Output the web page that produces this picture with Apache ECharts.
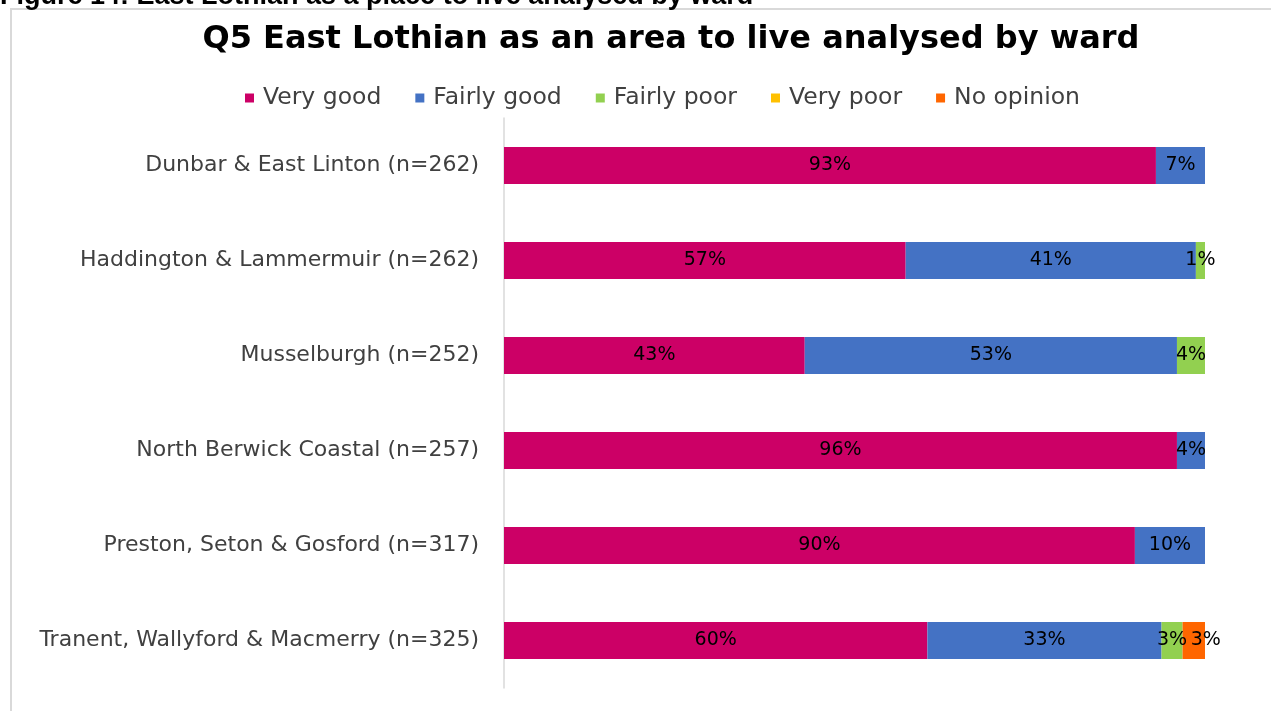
<!DOCTYPE html>
<html>
<head>
<meta charset="utf-8">
<script src="https://cdn.jsdelivr.net/npm/echarts@6/dist/echarts.min.js"></script>
<style>
html,body{margin:0;padding:0;background:#fff;}
#chart{width:1271px;height:711px;}
</style>
</head>
<body>
<div id="chart"></div>
<script>
const categories = [
  'Dunbar & East Linton (n=262)',
  'Haddington & Lammermuir (n=262)',
  'Musselburgh (n=252)',
  'North Berwick Coastal (n=257)',
  'Preston, Seton & Gosford (n=317)',
  'Tranent, Wallyford & Macmerry (n=325)'
];
const seriesNames = ['Very good', 'Fairly good', 'Fairly poor', 'Very poor', 'No opinion'];
const veryGood   = [93, 57.3, 42.9, 96, 90, 60.4];
const fairlyGood = [7, 41.4, 53.1, 4, 10, 33.4];
const fairlyPoor = [0, 1.3, 4.0, 0, 0, 3.0];
const veryPoor   = [0, 0, 0, 0, 0, 0];
const noOpinion  = [0, 0, 0, 0, 0, 3.2];
const colors = ['#CC0066', '#4472C4', '#92D050', '#FFC000', '#FF6600'];
const allData = [veryGood, fairlyGood, fairlyPoor, veryPoor, noOpinion];

const FONT = '"DejaVu Sans", Verdana, sans-serif';

const chart = echarts.init(document.getElementById('chart'));
chart.setOption({
  animation: false,
  backgroundColor: '#fff',
  graphic: [
    {type: 'rect', shape: {x: 11, y: 9, width: 1400, height: 900},
     style: {fill: 'none', stroke: '#d9d9d9', lineWidth: 2}, silent: true},
    {type: 'text', left: 0, top: -17,
     style: {text: 'Figure 14: East Lothian as a place to live analysed by ward',
             font: 'bold 27px "Liberation Sans", Arial, sans-serif', fill: '#000'}},
    {type: 'text', x: 671, y: 40,
     style: {text: 'Q5 East Lothian as an area to live analysed by ward',
             font: 'bold 32px "DejaVu Sans", Verdana, sans-serif', fill: '#000',
             textAlign: 'center', textVerticalAlign: 'middle'}}
  ],
  legend: {
    top: 81, left: 240,
    icon: 'rect', itemWidth: 9, itemHeight: 9, itemGap: 34,
    textStyle: {fontFamily: FONT, fontSize: 23.5, color: '#404040', padding: [0, 0, 0, 4]},
    data: seriesNames
  },
  grid: {left: 504, right: 66, top: 118, bottom: 23, containLabel: false},
  xAxis: {type: 'value', min: 0, max: 100, show: false},
  yAxis: {
    type: 'category', data: categories, inverse: true,
    axisLine: {show: true, lineStyle: {color: '#d9d9d9', width: 1.5}},
    axisTick: {show: false},
    axisLabel: {fontFamily: FONT, fontSize: 22, color: '#404040', margin: 25}
  },
  series: seriesNames.map((name, i) => ({
    name: name, type: 'bar', stack: 'total',
    barWidth: 37,
    itemStyle: {color: colors[i]},
    label: {
      show: true, position: 'inside',
      fontFamily: FONT, fontSize: 19, color: '#000',
      offset: name === 'No opinion' ? [12, 0] : [0, 0],
      formatter: p => p.value > 0 ? Math.round(p.value) + '%' : ''
    },
    data: allData[i]
  }))
});
</script>
</body>
</html>
